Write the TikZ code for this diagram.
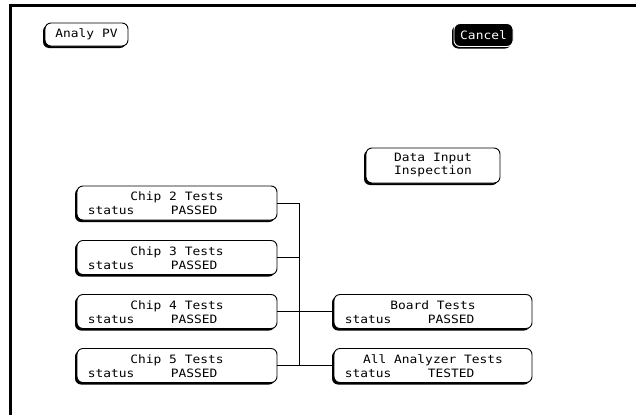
\documentclass[tikz,border=0pt]{standalone}
\usepackage{fontspec}
\newfontfamily\hpfont[FakeStretch=1.12]{DejaVu Sans Mono}
\usetikzlibrary{calc,shadows}
\tikzstyle{box}=[rectangle, rounded corners=6pt, draw=black, fill=white, line width=0.9pt, inner sep=0pt, drop shadow={shadow xshift=-2pt, shadow yshift=-2pt, opacity=1, fill=black}]
\tikzstyle{annot}=[inner sep=0pt, align=center, font=\hpfont\fontsize{11.5}{13}\selectfont]
\tikzstyle{wire}=[line width=0.9pt]
\newcommand{\testbox}[5]% name, centre, width, title, status
{
  \node[box, minimum width=#3, minimum height=34pt](#1) at #2{};
  \node[annot, anchor=base](#1t) at ($(#1.north)+(0,15)$) {#4};
  \node[annot, anchor=base west](#1s) at ($(#1.north west)+(11,29)$) {status};
  \node[annot, anchor=base west](#1v) at ($(#1.north west)+(94,29)$) {#5};
}

\begin{document}
\begin{tikzpicture}[x=1pt, y=-1pt]
	\useasboundingbox (0,0) rectangle (636,415);
	\draw[line width=3pt] (10.5,415) -- (10.5,5.5) -- (636,5.5);

	% softkeys
	\node[box, annot, minimum width=83pt, minimum height=23pt](analy) at (86.5,34.5){Analy PV};
	\node[box, annot, minimum width=59pt, minimum height=23pt, fill=black, draw=white, text=white](cancel) at (483.5,35){Cancel};
	\node[box, annot, minimum width=134pt, minimum height=35pt](datain) at (433,165.5){Data Input\\Inspection};

	% test boxes
	\testbox{chip2}{(177,203)}{200pt}{Chip 2 Tests}{PASSED}
	\testbox{chip3}{(177,257.5)}{200pt}{Chip 3 Tests}{PASSED}
	\testbox{chip4}{(177,311.5)}{200pt}{Chip 4 Tests}{PASSED}
	\testbox{chip5}{(177,365.5)}{200pt}{Chip 5 Tests}{PASSED}
	\testbox{board}{(433,311.5)}{198pt}{Board Tests}{PASSED}
	\testbox{all}{(433,365.5)}{198pt}{All Analyzer Tests}{TESTED}

	\coordinate (bus) at (299,0);
	\draw[wire] (chip2.east) -- (chip2.east -| bus) |- (chip5.east);
	\draw[wire] (chip3.east) -- (chip3.east -| bus);
	\draw[wire] (chip4.east) -- (board.west);
	\draw[wire] (chip5.east) -- (all.west);
\end{tikzpicture}
\end{document}
